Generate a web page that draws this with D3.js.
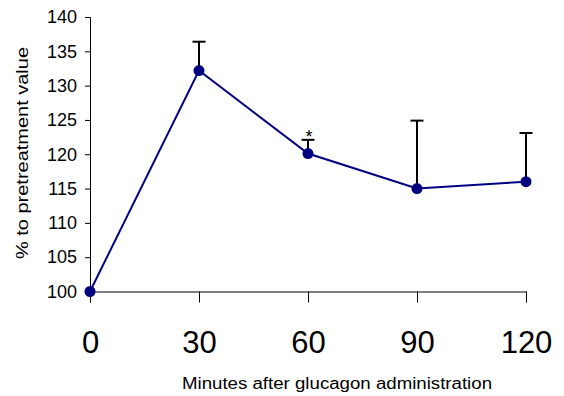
<!DOCTYPE html>
<html>
<head>
<meta charset="utf-8">
<script src="https://cdn.jsdelivr.net/npm/d3@7"></script>
<style>
  body { margin: 0; background: #fff; }
  svg { display: block; font-family: Arial, "Liberation Sans", sans-serif; }
</style>
</head>
<body>
<div id="chart"></div>
<script>
// data
const minutes = [0, 30, 60, 90, 120];
const meanValues = [100, 132.2, 120.1, 115.0, 116.0];
const upperError = [0, 4.2, 2.0, 9.9, 7.1];
const significant = [false, false, true, false, false];
const yTicks = [100, 105, 110, 115, 120, 125, 130, 135, 140];
const xTicks = [0, 30, 60, 90, 120];

const width = 564, height = 396;
const margin = { top: 17, right: 38, bottom: 105, left: 90 };

const svg = d3.select("#chart").append("svg")
    .attr("width", width)
    .attr("height", height);

const x = d3.scaleLinear().domain([0, 120]).range([margin.left, width - margin.right]);
const y = d3.scaleLinear().domain([100, 140]).range([height - margin.bottom + 0.5, margin.top]);

// y axis
const yAxis = svg.append("g")
    .attr("transform", `translate(${margin.left},0)`)
    .call(d3.axisLeft(y).tickValues(yTicks).tickSize(5).tickPadding(8));
yAxis.select(".domain").attr("stroke", "#000");
yAxis.selectAll("text").attr("font-size", 18).attr("fill", "#000").attr("font-family", "Arial, 'Liberation Sans', sans-serif");

// x axis
const xAxis = svg.append("g")
    .attr("transform", `translate(0,${y(100)})`)
    .call(d3.axisBottom(x).tickValues(xTicks).tickSize(11).tickSizeOuter(11).tickPadding(0));
xAxis.select(".domain").attr("stroke", "#000");
xAxis.selectAll("text")
    .attr("font-size", 31)
    .attr("fill", "#000")
    .attr("font-family", "Arial, 'Liberation Sans', sans-serif")
    .attr("dy", null)
    .attr("y", 61);

// axis titles
svg.append("text")
    .attr("x", 337)
    .attr("y", 389)
    .attr("text-anchor", "middle")
    .attr("font-size", 16)
    .attr("textLength", 310)
    .attr("lengthAdjust", "spacingAndGlyphs")
    .text("Minutes after glucagon administration");

svg.append("text")
    .attr("transform", "translate(28,153) rotate(-90)")
    .attr("text-anchor", "middle")
    .attr("font-size", 17)
    .attr("textLength", 212)
    .attr("lengthAdjust", "spacingAndGlyphs")
    .text("% to pretreatment value");

const pts = minutes.map((m, i) => ({ m, v: meanValues[i], e: upperError[i], sig: significant[i] }));

// error bars (upper only)
const eb = svg.append("g").attr("stroke", "#000").attr("stroke-width", 2);
pts.filter(d => d.e > 0).forEach(d => {
    eb.append("line")
        .attr("x1", x(d.m)).attr("x2", x(d.m))
        .attr("y1", y(d.v)).attr("y2", y(d.v + d.e));
    eb.append("line")
        .attr("x1", x(d.m) - 6.5).attr("x2", x(d.m) + 6.5)
        .attr("y1", y(d.v + d.e)).attr("y2", y(d.v + d.e));
});

// line
svg.append("path")
    .datum(pts)
    .attr("fill", "none")
    .attr("stroke", "#000080")
    .attr("stroke-width", 2)
    .attr("d", d3.line().x(d => x(d.m)).y(d => y(d.v)));

svg.selectAll(".dot")
    .data(pts)
    .enter()
    .append("circle")
    .attr("class", "dot")
    .attr("cx", d => x(d.m))
    .attr("cy", d => y(d.v))
    .attr("r", 5.5)
    .attr("fill", "#000080");

// significance marker
svg.selectAll(".sig")
    .data(pts.filter(d => d.sig))
    .enter()
    .append("text")
    .attr("class", "sig")
    .attr("x", d => x(d.m) + 1)
    .attr("y", d => y(d.v + d.e) + 3)
    .attr("text-anchor", "middle")
    .attr("font-size", 18)
    .text("*");
</script>
</body>
</html>
